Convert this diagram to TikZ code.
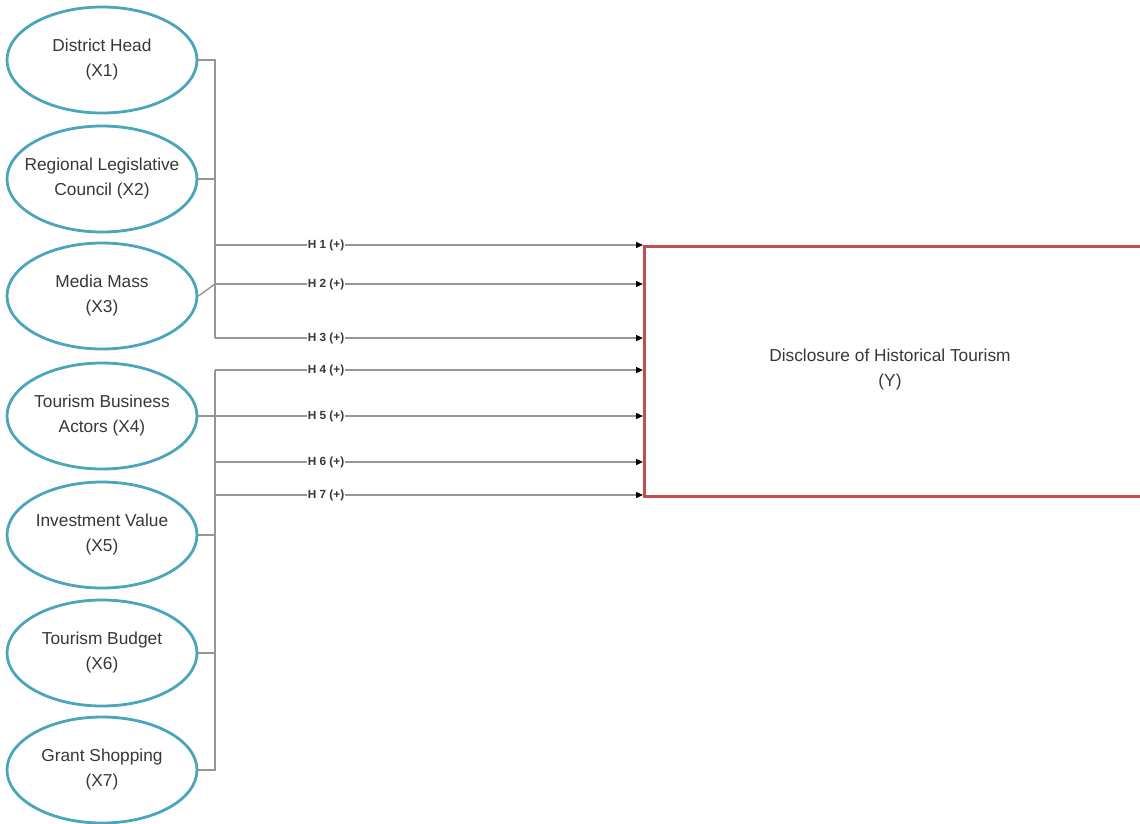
\documentclass[tikz,border=0pt]{standalone}
\usepackage{fontspec}
\setmainfont{Liberation Sans}
\usetikzlibrary{shapes.geometric,arrows.meta}
\definecolor{tealline}{RGB}{75,165,188}
\definecolor{redbox}{RGB}{192,80,77}
\definecolor{conn}{RGB}{150,150,150}
\definecolor{txt}{RGB}{55,55,55}
\begin{document}
\begin{tikzpicture}[x=1pt,y=-1pt,
  latent/.style={ellipse, draw=tealline, line width=2.8pt, minimum width=190pt, minimum height=106pt, inner sep=0pt},
  lattext/.style={text=txt, align=center, font=\fontsize{17.3}{25}\selectfont},
  conline/.style={draw=conn, line width=1.4pt},
  arr/.style={conline, -{Triangle[length=7pt,width=6pt,fill=black,color=black]}},
  hlabel/.style={fill=white, inner sep=1pt, text=txt, font=\bfseries\fontsize{11.8}{13}\selectfont}]
\useasboundingbox (0,0) rectangle (1140,823);
\clip (0,0) rectangle (1140,823);

% latent variables
\node[latent, label={[lattext]center:District Head\\(X1)}] (x1) at (102,60) {};
\node[latent, label={[lattext]center:Regional Legislative\\Council (X2)}] (x2) at (102,179) {};
\node[latent, label={[lattext]center:Media Mass\\(X3)}] (x3) at (102,296) {};
\node[latent, label={[lattext]center:Tourism Business\\Actors (X4)}] (x4) at (102,416) {};
\node[latent, label={[lattext]center:Investment Value\\(X5)}] (x5) at (102,535) {};
\node[latent, label={[lattext]center:Tourism Budget\\(X6)}] (x6) at (102,653) {};
\node[latent, label={[lattext]center:Grant Shopping\\(X7)}] (x7) at (102,770) {};

% dependent variable
\node[draw=redbox, line width=2.5pt, minimum width=520pt, minimum height=250pt, inner sep=0pt, anchor=north west] (y) at (643,245) {};
\node[lattext] (ylab) at (890,370) {Disclosure of Historical Tourism\\(Y)};

% bus coordinates
\coordinate (t1) at (215,60);
\coordinate (t2) at (215,179);
\coordinate (a1) at (215,245);
\coordinate (a2) at (215,284);
\coordinate (a3) at (215,338);
\coordinate (a4) at (215,370);
\coordinate (a6) at (215,462);
\coordinate (a7) at (215,495);
\coordinate (t5) at (215,535);
\coordinate (t6) at (215,653);
\coordinate (t7) at (215,770);

% buses
\draw[conline] (x1.east) -- (t1) -- (a3);
\draw[conline] (x2.east) -- (t2);
\draw[conline] (x3.east) -- (a2);
\draw[conline] (a4) -- (t7) -- (x7.east);
\draw[conline] (x5.east) -- (t5);
\draw[conline] (x6.east) -- (t6);

% arrows
\draw[arr] (a1) -- (a1 -| y.west);
\draw[arr] (a2) -- (a2 -| y.west);
\draw[arr] (a3) -- (a3 -| y.west);
\draw[arr] (a4) -- (a4 -| y.west);
\draw[arr] (x4.east) -- (x4.east -| y.west);
\draw[arr] (a6) -- (a6 -| y.west);
\draw[arr] (a7) -- (a7 -| y.west);

% hypothesis labels
\node[hlabel] (h1) at (326,245) {H 1 (+)};
\node[hlabel] (h2) at (326,284) {H 2 (+)};
\node[hlabel] (h3) at (326,338) {H 3 (+)};
\node[hlabel] (h4) at (326,370) {H 4 (+)};
\node[hlabel] (h5) at (326,416) {H 5 (+)};
\node[hlabel] (h6) at (326,462) {H 6 (+)};
\node[hlabel] (h7) at (326,495) {H 7 (+)};
\end{tikzpicture}
\end{document}
